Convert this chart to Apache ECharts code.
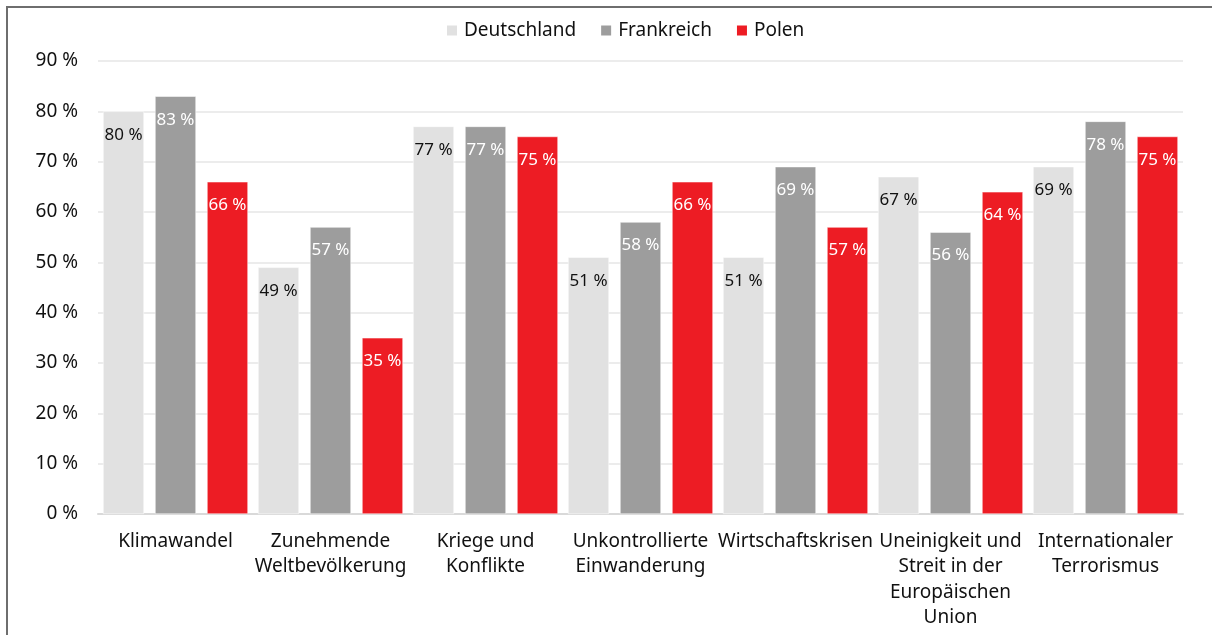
<!DOCTYPE html>
<html>
<head>
<meta charset="utf-8">
<script src="https://cdn.jsdelivr.net/npm/echarts@6/dist/echarts.min.js"></script>
<style>
  html, body { margin: 0; padding: 0; background: #fff; overflow: hidden; }
  #frame { position: absolute; left: 6px; top: 6px; width: 1260px; height: 700px; border: 2px solid #6e6e6e; box-sizing: border-box; }
  #chart { position: absolute; left: 0; top: 0; width: 1212px; height: 635px; }
</style>
</head>
<body>
<div id="frame"></div>
<div id="chart"></div>
<script>
// Kategorien und Werte (in Prozent)
var categories = [
    'Klimawandel',
    'Zunehmende\nWeltbevölkerung',
    'Kriege und\nKonflikte',
    'Unkontrollierte\nEinwanderung',
    'Wirtschaftskrisen',
    'Uneinigkeit und\nStreit in der\nEuropäischen\nUnion',
    'Internationaler\nTerrorismus'
];
var deutschland = [80, 49, 77, 51, 51, 67, 69];
var frankreich = [83, 57, 77, 58, 69, 56, 78];
var polen = [66, 35, 75, 66, 57, 64, 75];
var yTicks = [0, 10, 20, 30, 40, 50, 60, 70, 80, 90];

var font = 'Noto Sans';

function makeSeries(name, data, color, labelColor) {
    return {
        name: name,
        type: 'bar',
        data: data,
        barGap: '27%',
        barCategoryGap: '6.5%',
        itemStyle: { color: color, borderColor: '#fff', borderWidth: 0.5 },
        label: {
            show: true,
            position: 'insideTop',
            distance: 15,
            color: labelColor,
            fontFamily: font,
            fontSize: 17,
            formatter: '{c} %'
        }
    };
}

var chart = echarts.init(document.getElementById('chart'));
chart.setOption({
    animation: false,
    textStyle: { fontFamily: font },
    legend: {
        top: 16,
        left: 440,
        itemWidth: 12,
        itemHeight: 12,
        itemGap: 23,
        icon: 'rect',
        textStyle: { fontSize: 19, color: '#111', fontFamily: font, padding: [0, 0, 0, 1] }
    },
    grid: { left: 98, right: 29, top: 61, bottom: 121 },
    xAxis: {
        type: 'category',
        data: categories,
        axisTick: { show: false },
        axisLine: { lineStyle: { color: '#d9d9d9', width: 2 } },
        axisLabel: {
            interval: 0,
            margin: 15,
            fontSize: 19,
            lineHeight: 25.3,
            color: '#111',
            fontFamily: font
        }
    },
    yAxis: {
        type: 'value',
        min: yTicks[0],
        max: yTicks[yTicks.length - 1],
        interval: 10,
        axisLine: { show: false },
        axisTick: { show: false },
        splitLine: { lineStyle: { color: '#e6e6e6', width: 1.5 } },
        axisLabel: {
            margin: 20,
            fontSize: 19,
            color: '#111',
            fontFamily: font,
            formatter: '{value} %'
        }
    },
    series: [
        makeSeries('Deutschland', deutschland, '#e1e1e1', '#111'),
        makeSeries('Frankreich', frankreich, '#9d9d9d', '#fff'),
        makeSeries('Polen', polen, '#ed1c24', '#fff')
    ]
});
</script>
</body>
</html>
